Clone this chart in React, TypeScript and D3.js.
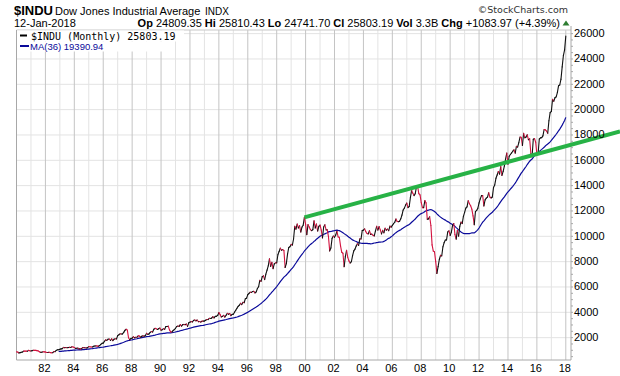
import React from "react";
import * as d3 from "d3";

// Monthly closes of the Dow Jones Industrial Average, Jan 1980 – Jan 2018
const startYear = 1980;
const closes1980s: number[] = [
  875.85, 863.14, 785.75, 817.06, 850.85, 867.92, 935.32, 932.59, 932.42, 924.49, 993.34, 963.99,
  947.27, 974.58, 1003.87, 997.75, 991.75, 976.88, 952.34, 881.47, 849.98, 852.55, 888.98, 875.0,
  871.1, 824.39, 822.77, 848.36, 819.54, 811.93, 808.6, 901.31, 896.25, 991.72, 1039.28, 1046.54,
  1075.7, 1112.62, 1130.03, 1226.2, 1199.98, 1221.96, 1199.22, 1216.16, 1233.13, 1225.2, 1276.02, 1258.64,
  1220.58, 1154.63, 1164.89, 1170.75, 1104.85, 1132.4, 1115.28, 1224.38, 1206.71, 1207.38, 1188.94, 1211.57,
  1286.77, 1284.01, 1266.78, 1258.06, 1315.41, 1335.46, 1347.45, 1334.01, 1328.63, 1374.31, 1472.13, 1546.67,
  1570.99, 1709.06, 1818.61, 1783.98, 1876.71, 1892.72, 1775.31, 1898.34, 1767.58, 1877.81, 1914.23, 1895.95,
  2158.04, 2223.99, 2304.69, 2286.36, 2291.57, 2418.53, 2572.07, 2662.95, 2596.28, 1993.53, 1833.55, 1938.83,
  1958.22, 2071.62, 1988.06, 2032.33, 2031.12, 2141.71, 2128.73, 2031.65, 2112.91, 2148.65, 2114.51, 2168.57,
  2342.32, 2258.39, 2293.62, 2418.8, 2480.15, 2440.06, 2660.66, 2737.27, 2692.82, 2645.08, 2706.27, 2753.2,
];
const closes1990s: number[] = [
  2590.54, 2627.25, 2707.21, 2656.76, 2876.66, 2880.69, 2905.2, 2614.36, 2452.48, 2442.33, 2559.65, 2633.66,
  2736.39, 2882.18, 2913.86, 2887.87, 3027.5, 2906.75, 3024.82, 3043.6, 3016.77, 3069.1, 2894.68, 3168.83,
  3223.39, 3267.67, 3235.47, 3359.12, 3396.88, 3318.52, 3393.78, 3257.35, 3271.66, 3226.28, 3305.16, 3301.11,
  3310.03, 3370.81, 3435.11, 3427.55, 3527.43, 3516.08, 3539.47, 3651.25, 3555.12, 3680.59, 3683.95, 3754.09,
  3978.36, 3832.02, 3635.96, 3681.69, 3758.37, 3624.96, 3764.5, 3913.42, 3843.19, 3908.12, 3739.23, 3834.44,
  3843.86, 4011.05, 4157.69, 4321.27, 4465.14, 4556.1, 4708.47, 4610.56, 4789.08, 4755.48, 5074.49, 5117.12,
  5395.3, 5485.62, 5587.14, 5569.08, 5643.18, 5654.63, 5528.91, 5616.21, 5882.17, 6029.38, 6521.7, 6448.27,
  6813.09, 6877.74, 6583.48, 7008.99, 7331.04, 7672.79, 8222.61, 7622.42, 7945.26, 7442.08, 7823.13, 7908.25,
  7906.5, 8545.72, 8799.81, 9063.37, 8899.95, 8952.02, 8883.29, 7539.07, 7842.62, 8592.1, 9116.55, 9181.43,
  9358.83, 9306.58, 9786.16, 10789.04, 10559.74, 10970.8, 10655.15, 10829.28, 10336.95, 10729.86, 10877.81, 11497.12,
];
const closes2000s: number[] = [
  10940.53, 10128.31, 10921.92, 10733.91, 10522.33, 10447.89, 10521.98, 11215.1, 10650.92, 10971.14, 10414.49, 10786.85,
  10887.36, 10495.28, 9878.78, 10734.97, 10911.94, 10502.4, 10522.81, 9949.75, 8847.56, 9075.14, 9851.56, 10021.5,
  9920.0, 10106.13, 10403.94, 9946.22, 9925.25, 9243.26, 8736.59, 8663.5, 7591.93, 8397.03, 8896.09, 8341.63,
  8053.81, 7891.08, 7992.13, 8480.09, 8850.26, 8985.44, 9233.8, 9415.82, 9275.06, 9801.12, 9782.46, 10453.92,
  10488.07, 10583.92, 10357.7, 10225.57, 10188.45, 10435.48, 10139.71, 10173.92, 10080.27, 10027.47, 10428.02, 10783.01,
  10489.94, 10766.23, 10503.76, 10192.51, 10467.48, 10274.97, 10640.91, 10481.6, 10568.7, 10440.07, 10805.87, 10717.5,
  10864.86, 10993.41, 11109.32, 11367.14, 11168.31, 11150.22, 11185.68, 11381.15, 11679.07, 12080.73, 12221.93, 12463.15,
  12621.69, 12268.63, 12354.35, 13062.91, 13627.64, 13408.62, 13211.99, 13357.74, 13895.63, 13930.01, 13371.72, 13264.82,
  12650.36, 12266.39, 12262.89, 12820.13, 12638.32, 11350.01, 11378.02, 11543.55, 10850.66, 9325.01, 8829.04, 8776.39,
  8000.86, 7062.93, 7608.92, 8168.12, 8500.33, 8447.0, 9171.61, 9496.28, 9712.28, 9712.73, 10344.84, 10428.05,
];
const closes2010s: number[] = [
  10067.33, 10325.26, 10856.63, 11008.61, 10136.63, 9774.02, 10465.94, 10014.72, 10788.05, 11118.49, 11006.02, 11577.51,
  11891.93, 12226.34, 12319.73, 12810.54, 12569.79, 12414.34, 12143.24, 11613.53, 10913.38, 11955.01, 12045.68, 12217.56,
  12632.91, 12952.07, 13212.04, 13213.63, 12393.45, 12880.09, 13008.68, 13090.84, 13437.13, 13096.46, 13025.58, 13104.14,
  13860.58, 14054.49, 14578.54, 14839.8, 15115.57, 14909.6, 15499.54, 14810.31, 15129.67, 15545.75, 16086.41, 16576.66,
  15698.85, 16321.71, 16457.66, 16580.84, 16717.17, 16826.6, 16563.3, 17098.45, 17042.9, 17390.52, 17828.24, 17823.07,
  17164.95, 18132.7, 17776.12, 17840.52, 18010.68, 17619.51, 17689.86, 16528.03, 16284.7, 17663.54, 17719.92, 17425.03,
  16466.3, 16516.5, 17685.09, 17773.64, 17787.2, 17929.99, 18432.24, 18400.88, 18308.15, 18142.42, 19123.58, 19762.6,
  19864.09, 20812.24, 20663.22, 20940.51, 21008.65, 21349.63, 21891.12, 21948.1, 22405.09, 23377.24, 24272.35, 24719.22,
  25803.19,
];
const closes: number[] = [...closes1980s, ...closes1990s, ...closes2000s, ...closes2010s];

const maPeriod = 36;
const yTicks: number[] = [2000, 4000, 6000, 8000, 10000, 12000, 14000, 16000, 18000, 20000, 22000, 24000, 26000];
const xLabelYears: number[] = d3.range(1982, 2019, 2);
const gridYears: number[] = d3.range(1980, 2019, 1);
// trend line anchors: Dec 1999 close and Oct 2007 close
const trendAnchors: { t: number; v: number }[] = [
  { t: 1999 + 11 / 12, v: 11497.12 },
  { t: 2007 + 9 / 12, v: 13930.01 },
];

const W = 620;
const H = 376;
const L = 16.5;
const R = 571;
const T = 30;
const B = 360;

export default function App() {
  const x = d3.scaleLinear().domain([1980, 2018.36]).range([L, R]);
  const y = d3.scaleLinear().domain([235, 26287]).range([B, T]);

  const pts = closes.map((c, i) => ({ t: startYear + i / 12, v: c }));
  const ma = pts
    .map((p, i) =>
      i >= maPeriod - 1 ? { t: p.t, v: d3.mean(closes.slice(i - maPeriod + 1, i + 1)) as number } : null
    )
    .filter((d) => d !== null) as { t: number; v: number }[];

  const line = d3
    .line<{ t: number; v: number }>()
    .x((d) => x(d.t))
    .y((d) => y(d.v));

  const segs = pts.slice(1).map((p, i) => ({
    a: pts[i],
    b: p,
    down: p.v < pts[i].v,
  }));

  const slope = (trendAnchors[1].v - trendAnchors[0].v) / (trendAnchors[1].t - trendAnchors[0].t);
  const tEnd = x.invert(W);
  const trend = [trendAnchors[0], { t: tEnd, v: trendAnchors[0].v + slope * (tEnd - trendAnchors[0].t) }];

  const font = "'Liberation Sans', Arial, sans-serif";
  const yMinor = d3.range(500, 26287, 500);

  return (
    <svg width={W} height={H} style={{ position: "absolute", left: 0, top: 0, background: "#fff" }} fontFamily={font}>
      <rect x={0} y={0} width={W} height={H} fill="#fff" />
      {/* header */}
      <text x={14} y={15} fontSize={13} fontWeight="bold" fill="#000">$INDU</text>
      <text x={55} y={15} fontSize={11} fill="#000">Dow Jones Industrial Average</text>
      <text x={205} y={15} fontSize={10} fill="#000">INDX</text>
      <text x={568} y={13} fontSize={9.5} fill="#333" textAnchor="end" fontFamily="'DejaVu Sans', sans-serif">©StockCharts.com</text>
      <text x={14} y={27} fontSize={11} fill="#000">12-Jan-2018</text>
      <text x={560} y={27} fontSize={11} fill="#000" textAnchor="end">
        <tspan fontWeight="bold">Op</tspan>
        <tspan> 24809.35 </tspan>
        <tspan fontWeight="bold">Hi</tspan>
        <tspan> 25810.43 </tspan>
        <tspan fontWeight="bold">Lo</tspan>
        <tspan> 24741.70 </tspan>
        <tspan fontWeight="bold">Cl</tspan>
        <tspan> 25803.19 </tspan>
        <tspan fontWeight="bold">Vol</tspan>
        <tspan> 3.3B </tspan>
        <tspan fontWeight="bold">Chg</tspan>
        <tspan> +1083.97 (+4.39%)</tspan>
      </text>
      <polygon points="562.5,25.5 569.5,25.5 566,20.5" fill="#2e7d32" />

      {/* grid */}
      {yTicks.map((v) => (
        <line key={"h" + v} x1={L} x2={R} y1={y(v)} y2={y(v)} stroke="#e3e3e3" strokeWidth={1} />
      ))}
      {gridYears.map((yr) => (
        <line
          key={"v" + yr}
          x1={x(yr)}
          x2={x(yr)}
          y1={T}
          y2={B}
          stroke={yr % 2 === 0 ? "#c4c4c4" : "#e3e3e3"}
          strokeWidth={1}
        />
      ))}

      {/* frame */}
      <line x1={L} x2={R} y1={T} y2={T} stroke="#c8c8c8" />
      <line x1={L} x2={L} y1={T} y2={B} stroke="#a8a8a8" />
      <line x1={L} x2={R} y1={B} y2={B} stroke="#a8a8a8" />
      <line x1={R} x2={R} y1={T - 4} y2={B} stroke="#a8a8a8" />
      {yMinor.map((v) => (
        <line key={"m" + v} x1={R} x2={R + 2} y1={y(v)} y2={y(v)} stroke="#a8a8a8" />
      ))}

      {/* MA */}
      <path d={line(ma) as string} fill="none" stroke="#0a0a9a" strokeWidth={1.2} />

      {/* price */}
      {segs.map((s, i) => (
        <line
          key={"s" + i}
          x1={x(s.a.t)}
          y1={y(s.a.v)}
          x2={x(s.b.t)}
          y2={y(s.b.v)}
          stroke={s.down ? "#d3123f" : "#111"}
          strokeWidth={1.1}
          strokeLinecap="round"
        />
      ))}

      {/* trend line */}
      <path d={line(trend) as string} fill="none" stroke="#27b246" strokeWidth={4} />

      {/* legend */}
      <rect x={L + 0.5} y={T + 0.5} width={167} height={11} fill="#fff" />
      <rect x={L + 0.5} y={T + 11.5} width={152} height={10} fill="#fff" />
      <line x1={20} x2={27} y1={35.5} y2={35.5} stroke="#000" strokeWidth={2} />
      <text x={31} y={39.5} fontSize={10} fontFamily="'DejaVu Sans Mono', monospace" fill="#000">
        $INDU (Monthly) 25803.19
      </text>
      <line x1={20} x2={29} y1={46} y2={46} stroke="#0a0a9a" strokeWidth={2} />
      <text x={30} y={49.5} fontSize={9.5} fill="#0a0a9a">MA(36) 19390.94</text>

      {/* axes labels */}
      {yTicks.map((v) => (
        <text key={"yl" + v} x={574} y={y(v) + 3.5} fontSize={11} fill="#000">
          {v}
        </text>
      ))}
      {xLabelYears.map((yr) => (
        <text key={"xl" + yr} x={x(yr) - 1} y={371.5} fontSize={11} textAnchor="middle" fill="#000">
          {String(yr % 100).padStart(2, "0")}
        </text>
      ))}
    </svg>
  );
}
